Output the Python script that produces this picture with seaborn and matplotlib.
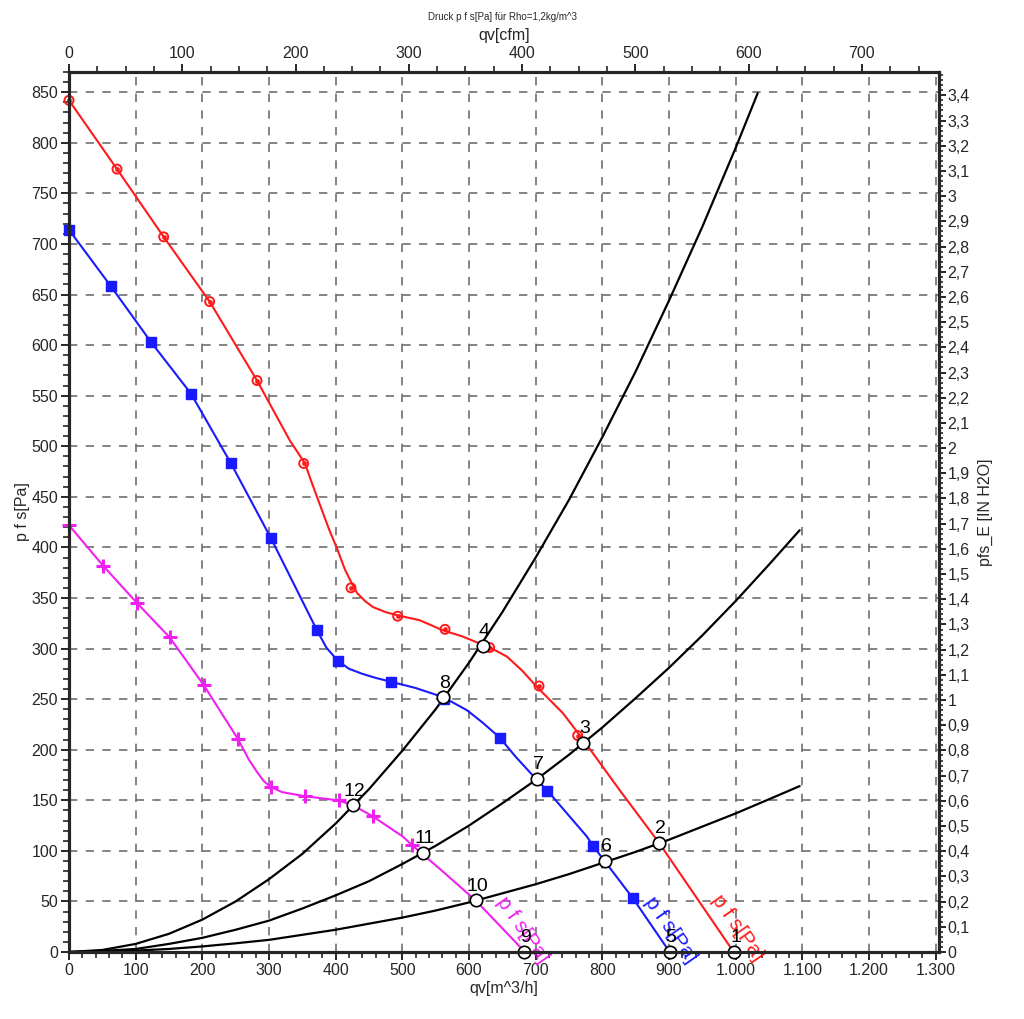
import numpy as np
import pandas as pd
import matplotlib
matplotlib.use("Agg")
import matplotlib.pyplot as plt
from matplotlib.ticker import MultipleLocator, FixedLocator, FuncFormatter
import seaborn as sns

# ---------------- data ----------------
red_q = [0, 72, 142, 211, 282, 331, 354, 362, 372, 390, 402, 414, 423, 432, 444, 456, 475, 492, 526, 561, 590, 616, 640, 657, 680, 702, 720, 741, 771, 826, 885, 940, 997]
red_p = [842, 774, 707, 643, 565, 506, 483, 468, 450, 418, 399, 378, 366, 355, 347, 341, 336, 333, 328, 318, 312, 305, 298, 292, 278, 262, 250, 236, 210, 160, 108, 55, 0]
red_mq = [0, 72, 142, 211, 282, 352, 423, 493, 564, 631, 705, 763]
red_mp = [842, 774, 707, 643, 565, 483, 360, 332, 319, 301, 263, 214]

blue_q = [0, 63, 123, 183, 243, 303, 372, 386, 403, 420, 440, 460, 484, 520, 561, 597, 620, 646, 670, 702, 717, 777, 786, 846, 901]
blue_p = [714, 658, 603, 552, 483, 409, 318, 301, 288, 280, 275, 271, 267, 261, 252, 239, 227, 212, 193, 170, 160, 114, 105, 53, 0]
blue_mq = [0, 63, 123, 183, 243, 303, 372, 403, 483, 562, 646, 717, 786, 846]
blue_mp = [714, 658, 603, 552, 483, 409, 318, 288, 267, 250, 212, 159, 105, 53]

mag_q = [0, 51, 102, 151, 202, 253, 270, 282, 292, 303, 320, 354, 403, 426, 456, 501, 514, 560, 610, 684]
mag_p = [422, 382, 345, 311, 264, 211, 190, 178, 169, 163, 158, 154, 150, 145, 134, 114, 106, 80, 51, 0]
mag_mq = [0, 51, 102, 151, 202, 253, 303, 354, 405, 456, 514]
mag_mp = [422, 382, 345, 311, 264, 211, 163, 154, 150, 134, 106]

sysA_q = [0, 50, 100, 150, 200, 250, 300, 350, 400, 450, 500, 550, 600, 650, 700, 750, 800, 850, 900, 950, 1000, 1033]
sysA_p = [0, 2, 8, 18, 32, 50, 72, 97, 127, 161, 199, 240, 286, 336, 390, 447, 509, 574, 644, 717, 795, 849]
sysB_q = [0, 50, 100, 150, 200, 250, 300, 350, 400, 450, 500, 550, 600, 650, 700, 750, 800, 850, 900, 950, 1000, 1050, 1096]
sysB_p = [0, 1, 3, 8, 14, 22, 31, 43, 56, 70, 87, 105, 125, 147, 170, 195, 222, 251, 281, 313, 347, 383, 417]
sysC_q = [0, 50, 100, 150, 200, 250, 300, 350, 400, 450, 500, 550, 600, 650, 700, 750, 800, 850, 900, 950, 1000, 1050, 1096]
sysC_p = [0, 0.3, 1.4, 3, 5.5, 8.6, 12, 17, 22, 28, 34, 41, 49, 58, 67, 77, 88, 99, 111, 124, 137, 151, 164]

op_q = [998, 885, 771, 621, 901, 804, 702, 561, 682, 610, 531, 426]
op_p = [0, 108, 207, 303, 0, 90, 171, 252, 0, 51, 98, 145]
op_labels = ["1", "2", "3", "4", "5", "6", "7", "8", "9", "10", "11", "12"]

title = "Druck p f s[Pa] für Rho=1,2kg/m^3"
xlabel_bottom = "qv[m^3/h]"
xlabel_top = "qv[cfm]"
ylabel_left = "p f s[Pa]"
ylabel_right = "pfs_E [IN H2O]"
curve_label = "p f s[Pa]"

PA_PER_INH2O = 249.09
M3H_PER_CFM = 1.699

# ---------------- style ----------------
sns.set_style("ticks")
plt.rcParams['font.family'] = ['Liberation Sans', 'DejaVu Sans']

RED = "#ff1a1a"
BLUE = "#1a1aff"
MAG = "#f020f0"

fig = plt.figure(figsize=(10.24, 10.19), dpi=100)
ax = fig.add_axes([69/1024, 1 - 952/1019, (939-69)/1024, (952-72)/1019])

XMAX, YMAX = 1305, 870
ax.set_xlim(0, XMAX)
ax.set_ylim(0, YMAX)

# grid
for gx in range(100, 1301, 100):
    ax.axvline(gx, color="#707070", lw=1.2, ls=(0, (5, 5)), zorder=0)
for gy in range(50, 851, 50):
    ax.axhline(gy, color="#707070", lw=1.2, ls=(0, (5, 5)), zorder=0)

def line(q, p, color, lw=1.5):
    df = pd.DataFrame({"q": q, "p": p})
    sns.lineplot(data=df, x="q", y="p", sort=False, color=color, lw=lw, ax=ax, zorder=3)

# system curves
line(sysA_q, sysA_p, "black", 1.6)
line(sysB_q, sysB_p, "black", 1.6)
line(sysC_q, sysC_p, "black", 1.6)

# fan curves
line(red_q, red_p, RED)
line(blue_q, blue_p, BLUE)
line(mag_q, mag_p, MAG)

# markers
sns.scatterplot(x=red_mq, y=red_mp, marker="o", s=42, facecolor="none", edgecolor=RED, linewidth=1.4, ax=ax, zorder=4, clip_on=False)
sns.scatterplot(x=red_mq, y=red_mp, marker="o", s=10, color=RED, edgecolor=RED, ax=ax, zorder=4, clip_on=False)
sns.scatterplot(x=blue_mq, y=blue_mp, marker="s", s=55, color=BLUE, edgecolor=BLUE, linewidth=1, ax=ax, zorder=4, clip_on=False)
sns.scatterplot(x=mag_mq, y=mag_mp, marker="+", s=100, color=MAG, linewidth=2.2, ax=ax, zorder=4, clip_on=False)

# operating points
sns.scatterplot(x=op_q, y=op_p, marker="o", s=80, color="white", edgecolor="black", linewidth=1.2, ax=ax, zorder=6, clip_on=False)
for q, p, lab in zip(op_q, op_p, op_labels):
    ax.annotate(lab, (q, p), xytext=(1, 4), textcoords="offset points", ha="center", va="bottom",
                fontsize=14, color="black", zorder=7)

# curve labels
for (cx, cy, col) in [(1003, 24, RED), (903, 22, BLUE), (681, 22, MAG)]:
    ax.text(cx, cy, curve_label, color=col, fontsize=15, rotation=-55, rotation_mode="anchor",
            ha="center", va="center", zorder=5)

# spines & ticks
for s in ax.spines.values():
    s.set_linewidth(2.2)
    s.set_color("black")
    s.set_zorder(8)

ax.xaxis.set_major_locator(MultipleLocator(100))
ax.xaxis.set_minor_locator(MultipleLocator(20))
ax.yaxis.set_major_locator(MultipleLocator(50))
ax.yaxis.set_minor_locator(MultipleLocator(10))
ax.xaxis.set_major_formatter(FuncFormatter(lambda v, pos: f"{int(round(v)):,}".replace(",", ".")))
ax.tick_params(axis="both", which="major", direction="out", length=6, width=1.4, labelsize=11.5, pad=2)
ax.tick_params(axis="both", which="minor", direction="out", length=4, width=1.2)
ax.set_xlabel(xlabel_bottom, fontsize=11.5, labelpad=2)
ax.set_ylabel(ylabel_left, fontsize=11.5, labelpad=1)

# top axis (cfm)
axt = ax.twiny()
axt.set_xlim(0, XMAX / M3H_PER_CFM)
axt.xaxis.set_major_locator(FixedLocator(list(range(0, 701, 100))))
axt.xaxis.set_minor_locator(MultipleLocator(25))
axt.tick_params(axis="x", which="major", direction="out", length=6, width=1.4, labelsize=11.5, pad=2)
axt.tick_params(axis="x", which="minor", direction="out", length=4, width=1.2)
axt.set_xlabel(xlabel_top, fontsize=11.5, labelpad=4)
for s in axt.spines.values():
    s.set_linewidth(2.2)

# right axis (in H2O)
axr = ax.twinx()
axr.set_ylim(0, YMAX / PA_PER_INH2O)
axr.yaxis.set_major_locator(FixedLocator([i / 10 for i in range(0, 35)]))
axr.yaxis.set_minor_locator(MultipleLocator(0.02))
def fmt_r(v, pos):
    s = f"{v:.1f}".replace(".", ",")
    return s[:-2] if s.endswith(",0") else s
axr.yaxis.set_major_formatter(FuncFormatter(fmt_r))
axr.tick_params(axis="y", which="major", direction="out", length=5, width=1.4, labelsize=11.5, pad=1)
axr.tick_params(axis="y", which="minor", direction="out", length=3, width=1.2)
axr.set_ylabel(ylabel_right, fontsize=11.5, labelpad=6)
for s in axr.spines.values():
    s.set_linewidth(2.2)

fig.text(502/1024, 1 - 17/1019, title, fontsize=7, ha="center", va="center")

fig.savefig("out.png", dpi=100, facecolor="white")
